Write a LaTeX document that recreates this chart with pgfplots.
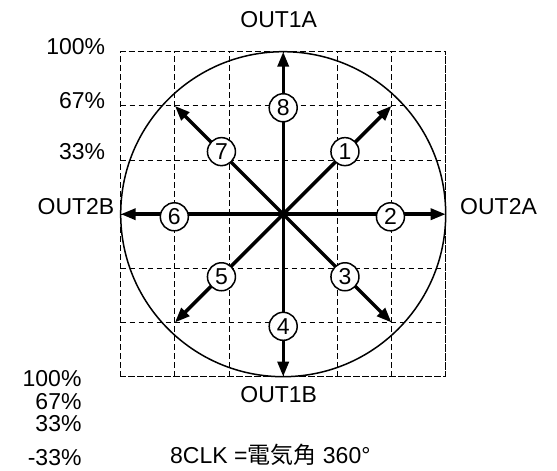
\documentclass[border=0pt]{standalone}
\usepackage{pgfplots}
\pgfplotsset{compat=1.18}
\usetikzlibrary{arrows.meta}
\usepackage{fontspec}
\setmainfont{Liberation Sans}
\newfontfamily\cjk{Noto Sans CJK JP}
\begin{document}
\begin{tikzpicture}[x=1pt,y=1pt,
  lab/.style={font=\fontsize{23}{27}\selectfont, inner sep=0pt},
  num/.style={circle, draw, line width=1.5pt, fill=white, minimum size=28pt, inner sep=0pt, font=\fontsize{23}{27}\selectfont},
  arr/.style={line width=3.4pt, -{Triangle[length=15pt,width=11pt]}}]
\path[use as bounding box] (-120.7,-94.3) rectangle (436.3,376.7);
\begin{axis}[at={(0,0)}, anchor=south west, scale only axis,
  width=325pt, height=325pt,
  xmin=-1, xmax=1, ymin=-1, ymax=1, clip=false,
  xtick={-1,-0.66667,-0.33333,0,0.33333,0.66667,1},
  ytick={-1,-0.66667,-0.33333,0,0.33333,0.66667,1},
  xticklabels={}, yticklabels={},
  grid=major,
  major grid style={black, line width=1pt, dash pattern=on 5.5pt off 3.5pt},
  axis line style={black, line width=1pt, dash pattern=on 5.5pt off 3.5pt},
  tick style={draw=none}]
\draw[line width=1.5pt] (axis cs:0,0) circle[radius=1];
\addplot[arr] coordinates {(0,0) (0,1)};
\addplot[arr] coordinates {(0,0) (0.66667,0.66667)};
\addplot[arr] coordinates {(0,0) (1,0)};
\addplot[arr] coordinates {(0,0) (0.66667,-0.66667)};
\addplot[arr] coordinates {(0,0) (0,-1)};
\addplot[arr] coordinates {(0,0) (-0.66667,-0.66667)};
\addplot[arr] coordinates {(0,0) (-1,0)};
\addplot[arr] coordinates {(0,0) (-0.66667,0.66667)};
\node[num] at (axis cs:0.38,0.385) {1};
\node[num] at (axis cs:0.66,-0.016) {2};
\node[num] at (axis cs:0.38,-0.385) {3};
\node[num] at (axis cs:0,-0.69) {4};
\node[num] at (axis cs:-0.38,-0.385) {5};
\node[num] at (axis cs:-0.67,-0.016) {6};
\node[num] at (axis cs:-0.38,0.385) {7};
\node[num] at (axis cs:0,0.655) {8};
\end{axis}
\node[lab, anchor=base] at (158,349) {OUT1A};
\node[lab, anchor=base] at (158,-26) {OUT1B};
\node[lab, anchor=base west] at (339.3,161.7) {OUT2A};
\node[lab, anchor=base east] at (-6.2,161.7) {OUT2B};
\node[lab, anchor=base east] at (-15.4,321.7) {100\%};
\node[lab, anchor=base east] at (-15.4,268.4) {67\%};
\node[lab, anchor=base east] at (-15.4,216.7) {33\%};
\node[lab, anchor=base east] at (-39,-10) {100\%};
\node[lab, anchor=base east] at (-39,-32.3) {67\%};
\node[lab, anchor=base east] at (-39,-54.3) {33\%};
\node[lab, anchor=base east] at (-39,-89) {-33\%};
\node[lab, anchor=base west] at (49.3,-86.3) {8CLK ={\cjk 電気角} 360°};
\end{tikzpicture}
\end{document}
